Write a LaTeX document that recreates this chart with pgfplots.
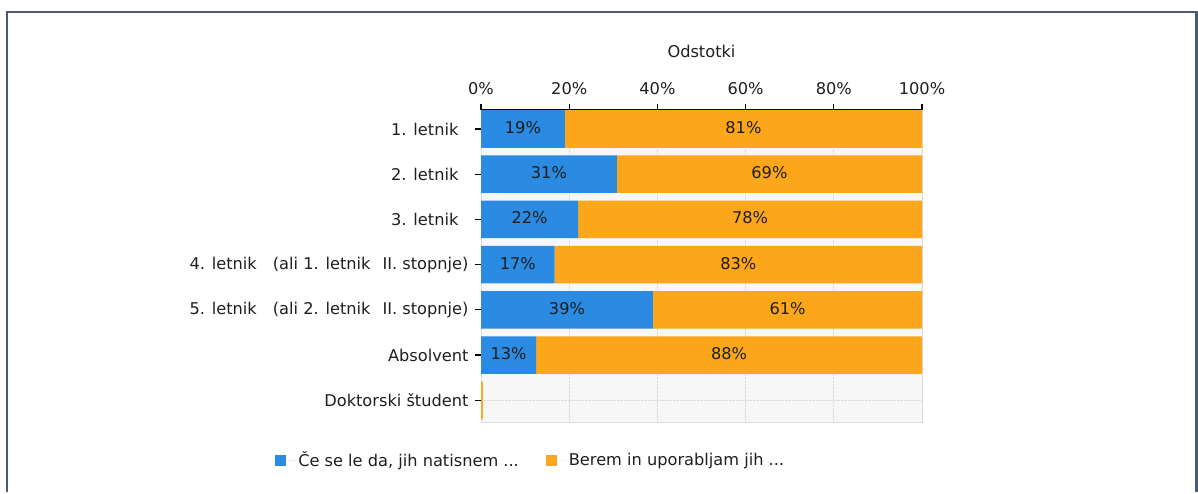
\documentclass[border=0pt]{standalone}
\usepackage{pgfplots}
\pgfplotsset{compat=1.18}
\usepackage{pgfplotstable}
\usepackage{fontspec}
\setmainfont{DejaVu Sans}
\definecolor{cblue}{HTML}{2B8AE2}
\definecolor{corange}{HTML}{FCA61B}
\definecolor{frm}{HTML}{4B5B72}
\definecolor{txt}{HTML}{1E1E1E}
\newcommand{\cf}{\fontsize{16.2}{19}\selectfont}

\pgfplotstableread{
y b o bl ol
6 19 81 19\% 81\%
5 30.8 69.2 31\% 69\%
4 22 78 22\% 78\%
3 16.7 83.3 17\% 83\%
2 39 61 39\% 61\%
1 12.5 87.5 13\% 88\%
0 0 0.4 {} {}
}\datatable

\begin{document}
\begin{tikzpicture}[font=\cf]
\path (0pt,0pt) rectangle (1198pt,-492pt);
\draw[frm, line width=2.5pt] (7pt,-492pt) -- (7pt,-12pt) -- (1196.5pt,-12pt) -- (1196.5pt,-492pt);
\begin{axis}[
  at={(481pt,-110pt)}, anchor=north west,
  width=441pt, height=312pt, scale only axis,
  xbar stacked, bar width=0.83,
  xmin=0, xmax=100, ymin=-0.48, ymax=6.42,
  axis x line*=top, axis y line*=left,
  x axis line style={black, line width=1.4pt, -},
  y axis line style={draw=none},
  axis background/.style={fill=black!3, draw=black!15, line width=0.8pt},
  xmajorgrids, ymajorgrids,
  grid style={densely dotted, black!15, line width=0.8pt},
  xtick={0,20,40,60,80,100},
  xticklabels={0\%,20\%,40\%,60\%,80\%,100\%},
  xticklabel style={yshift=6pt},
  ytick={0,1,2,3,4,5,6},
  yticklabels={Doktorski študent, Absolvent,
    5. letnik\hspace{16pt}(ali 2. letnik\hspace{12pt}II. stopnje),
    4. letnik\hspace{16pt}(ali 1. letnik\hspace{12pt}II. stopnje),
    3. letnik\hspace{10pt}\mbox{}, 2. letnik\hspace{10pt}\mbox{}, 1. letnik\hspace{10pt}\mbox{}},
  yticklabel style={xshift=-3pt},
  tick align=outside,
  major tick length=6pt,
  x tick style={black, line width=1.2pt},
  y tick style={black, line width=1.2pt},
  tick label style={font=\cf, text=txt},
  xlabel={Odstotki},
  xlabel style={font=\cf, text=txt, yshift=18pt},
  point meta=explicit symbolic,
  nodes near coords={\pgfplotspointmeta},
  every node near coord/.append style={anchor=center, font=\cf, text=txt, yshift=1.5pt},
  legend columns=2,
  legend style={draw=none, fill=none, font=\cf, text=txt, at={(-0.467,-0.122)}, anchor=west, inner sep=0pt,
    /tikz/every even column/.append style={column sep=25pt}},
  legend image code/.code={\fill[#1] (0pt,-5.5pt) rectangle (11pt,5.5pt); \path (0pt,0pt) -- (21pt,0pt);},
]
\addplot[fill=cblue, draw=none]
  table[x=b, y=y, meta=bl] {\datatable};
\addlegendentry{Če se le da, jih natisnem ...}
\addplot[fill=corange, draw=none]
  table[x=o, y=y, meta=ol] {\datatable};
\addlegendentry{Berem in uporabljam jih ...}
\end{axis}
\end{tikzpicture}
\end{document}
